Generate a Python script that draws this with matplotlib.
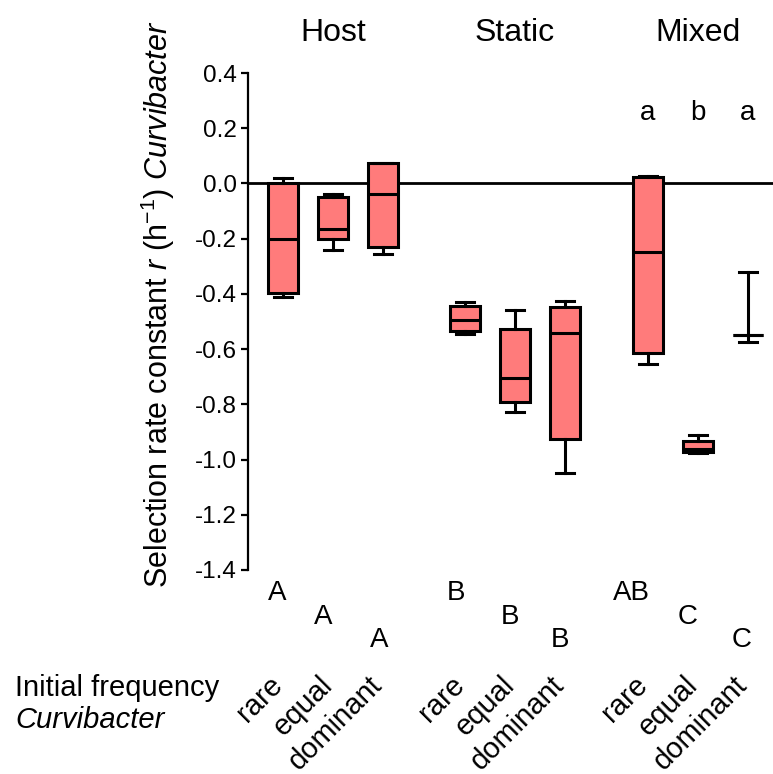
import numpy as np
import matplotlib
matplotlib.use("Agg")
import matplotlib.pyplot as plt

plt.rcParams['font.family'] = ['Liberation Sans', 'DejaVu Sans']
plt.rcParams['mathtext.fontset'] = 'custom'
plt.rcParams['mathtext.rm'] = 'Liberation Sans'
plt.rcParams['mathtext.it'] = 'Liberation Sans:italic'

# data
groups = ['Host', 'Static', 'Mixed']
freqs = ['rare', 'equal', 'dominant']
positions = [0, 1, 2, 3.64, 4.64, 5.64, 7.3, 8.3, 9.3]

whislo = [-0.41, -0.24, -0.255, -0.545, -0.827, -1.048, -0.654, -0.978, -0.576]
q1     = [-0.397, -0.20, -0.23, -0.534, -0.79, -0.927, -0.613, -0.972, -0.549]
med    = [-0.20, -0.166, -0.04, -0.496, -0.706, -0.54, -0.247, -0.963, -0.549]
q3     = [0.0, -0.05, 0.075, -0.445, -0.527, -0.449, 0.022, -0.932, -0.549]
whishi = [0.02, -0.04, 0.075, -0.43, -0.457, -0.425, 0.028, -0.912, -0.32]

upper_letters = ['', '', '', '', '', '', 'a', 'b', 'a']
lower_letters = ['A', 'A', 'A', 'B', 'B', 'B', 'AB', 'C', 'C']

fig = plt.figure(figsize=(7.73, 7.74), dpi=100)
ax = fig.add_axes([248/773, 1-570/774, 1-248/773, (570-73)/774])

stats = []
for i in range(len(positions)):
    stats.append(dict(whislo=whislo[i], q1=q1[i], med=med[i], q3=q3[i],
                      whishi=whishi[i], fliers=[]))

lw = 2.2
ax.bxp(stats, positions=positions, widths=0.6, capwidths=0.36,
       patch_artist=True, showfliers=False,
       boxprops=dict(facecolor='#ff7b7b', edgecolor='black', linewidth=lw),
       medianprops=dict(color='black', linewidth=lw),
       whiskerprops=dict(color='black', linewidth=lw),
       capprops=dict(color='black', linewidth=lw))

ax.axhline(0, color='black', lw=2.0, zorder=0.5)

ax.set_xlim(-0.7, 9.8)
ax.set_ylim(-1.4, 0.4)
yt = np.round(np.arange(-1.4, 0.41, 0.2), 1)
ax.set_yticks(yt)
ax.set_yticklabels(['%.1f' % (v + 0.0) for v in yt])
ax.tick_params(axis='y', labelsize=17.5, width=1.6, length=5, direction='out', pad=3)
ax.set_xticks([])
for s in ['top', 'right', 'bottom']:
    ax.spines[s].set_visible(False)
ax.spines['left'].set_linewidth(1.6)

ax.set_ylabel(r'Selection rate constant $r$ (h$^{-1}$) $Curvibacter$', fontsize=22)
ax.yaxis.set_label_coords(-0.135, 0.535)

# group titles
for g, name in enumerate(groups):
    xc = positions[3*g + 1]
    ax.text(xc, 0.545, name, fontsize=23, ha='center', va='center', clip_on=False)

# significance letters
lower_y = [-1.484, -1.571, -1.654]
lower_dx = [-0.12, -0.2, -0.08, -0.18, -0.1, -0.1, -0.34, -0.2, -0.12]
for i, p in enumerate(positions):
    if upper_letters[i]:
        ax.text(p, 0.255, upper_letters[i], fontsize=20, ha='center', va='center')
    ax.text(p + lower_dx[i], lower_y[i % 3], lower_letters[i], fontsize=20,
            ha='center', va='center', clip_on=False)

# rotated category labels
for i, p in enumerate(positions):
    ax.text(p + 0.1, -1.765, freqs[i % 3], fontsize=21, rotation=45,
            ha='right', va='top', clip_on=False)

fig.text(15/773, 1-688/774, 'Initial frequency', fontsize=21, ha='left', va='center')
fig.text(15/773, 1-720/774, 'Curvibacter', fontsize=21, ha='left', va='center',
         style='italic')

fig.savefig('out.png', dpi=100)
